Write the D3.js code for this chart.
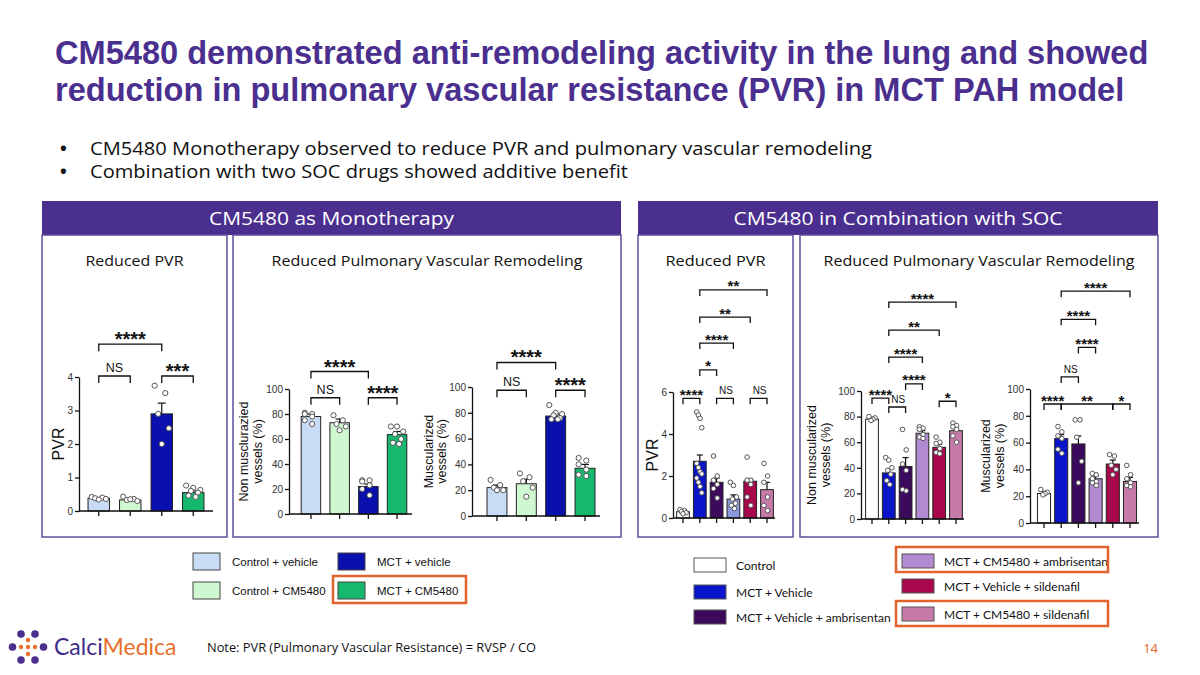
<!DOCTYPE html>
<meta charset="utf-8">
<head>
<style>
  body { margin: 0; background: #fff; }
  svg text { font-family: "Liberation Sans", Arial, sans-serif; }
  .lato { font-family: Lato, sans-serif !important; }
  .open { font-family: "Open Sans", sans-serif !important; }
  .axis text { font-size: 10px; fill: #333; }
  .axis path, .axis line { stroke: #111; stroke-width: 1.3px; }
</style>
</head>
<body>
<script src="https://d3js.org/d3.v7.min.js"></script>
<script>

// ---------- data ----------
var groupsMono = ["Control + vehicle", "Control + CM5480", "MCT + vehicle", "MCT + CM5480"];
var colorsMono = ["#c8dcf5", "#cff8d0", "#0a10ad", "#15b86c"];

var groupsSoc = ["Control", "MCT + Vehicle", "MCT + Vehicle + ambrisentan",
                 "MCT + CM5480 + ambrisentan", "MCT + Vehicle + sildenafil", "MCT + CM5480 + sildenafil"];
var colorsSoc = ["#ffffff", "#0a14c8", "#3b0a5c", "#b28ad0", "#a8084b", "#c67aa7"];

// monotherapy: PVR
var pvrMonoMean = [0.38, 0.33, 2.9, 0.55];
var pvrMonoErr  = [0.02, 0.03, 0.32, 0.05];
var pvrMonoPts  = [[0.42, 0.40, 0.38, 0.36, 0.34],
                   [0.43, 0.36, 0.33, 0.30, 0.35],
                   [3.74, 3.52, 2.9, 2.47, 2.0],
                   [0.76, 0.69, 0.63, 0.60, 0.55, 0.46, 0.42]];
var pvrMonoSig  = [[0, 1, 4.03, "NS"], [2, 3, 4.03, "***"], [0, 2, 4.98, "****"]];

// monotherapy: non muscularized vessels (%)
var nonMuscMonoMean = [78, 73, 22, 63.5];
var nonMuscMonoErr  = [2, 3, 2, 2.5];
var nonMuscMonoPts  = [[81, 80, 80, 78, 75, 72],
                       [79, 75, 72, 70, 67],
                       [27, 27, 26, 23, 20, 15],
                       [70, 70, 66, 64, 60, 57, 56]];
var nonMuscMonoSig  = [[0, 1, 93, "NS"], [2, 3, 93, "****"], [0, 2, 114, "****"]];

// monotherapy: muscularized vessels (%)
var muscMonoMean = [22, 25, 77.5, 37];
var muscMonoErr  = [2, 3.5, 1.5, 3];
var muscMonoPts  = [[28, 24, 22, 20, 20],
                    [33, 30, 27, 22, 15],
                    [86, 80, 79, 78, 76, 75, 75],
                    [45, 43, 40, 36, 32, 31]];
var muscMonoSig  = [[0, 1, 97.5, "NS"], [2, 3, 97.5, "****"], [0, 2, 119, "****"]];

// combination: PVR
var pvrSocMean = [0.3, 2.7, 1.7, 0.9, 1.75, 1.35];
var pvrSocErr  = [0.04, 0.3, 0.2, 0.2, 0.1, 0.35];
var pvrSocPts  = [[0.4, 0.35, 0.3, 0.25, 0.2],
                  [5.05, 4.9, 4.75, 4.3, 2.6, 2.4, 2.2, 2.1, 1.9, 1.7, 1.5, 1.2],
                  [2.95, 2.0, 1.8, 1.6, 1.4, 0.95],
                  [1.7, 1.55, 1.0, 0.9, 0.7, 0.6, 0.45],
                  [2.9, 1.8, 1.8, 1.6, 1.0, 0.6],
                  [2.6, 2.0, 1.7, 1.0, 0.6, 0.35]];
var pvrSocSig  = [[0, 1, 5.7, "****"], [2, 3, 5.7, "NS"], [4, 5, 5.7, "NS"],
                  [1, 2, 7.05, "*"], [1, 3, 8.33, "****"], [1, 4, 9.57, "**"], [1, 5, 10.86, "**"]];

// combination: non muscularized vessels (%)
var nonMuscSocMean = [78, 36, 41, 67, 56, 69];
var nonMuscSocErr  = [1.5, 3, 7, 2, 2.5, 3];
var nonMuscSocPts  = [[80, 79, 78, 77],
                      [48, 46, 40, 38, 35, 30, 27],
                      [70, 54, 43, 38, 23, 22],
                      [72, 71, 70, 66, 64, 63],
                      [64, 60, 59, 55, 52, 51],
                      [75, 73, 72, 70, 65, 60]];
var nonMuscSocSig  = [[0, 1, 94.5, "****"], [1, 2, 87.5, "NS"], [4, 5, 92, "*"],
                      [2, 3, 105.5, "****"], [1, 3, 126.5, "****"], [1, 4, 147.6, "**"], [1, 5, 169.5, "****"]];

// combination: muscularized vessels (%)
var muscSocMean = [22, 63, 59, 33, 44, 31];
var muscSocErr  = [1.5, 3, 6, 2, 3, 3];
var muscSocPts  = [[25, 23, 22, 21],
                   [72, 68, 65, 63, 55, 52],
                   [77, 77, 64, 46, 30],
                   [37, 36, 33, 31, 30, 28],
                   [51, 50, 43, 40, 36],
                   [43, 36, 33, 30, 28, 27]];
var muscSocSig  = [[0, 1, 88.8, "****"], [1, 4, 88.8, "**"], [4, 5, 88.8, "*"],
                   [1, 2, 109, "NS"], [2, 3, 131, "****"], [1, 3, 152, "****"], [1, 5, 173, "****"]];

var pctTicks = [0, 20, 40, 60, 80, 100];

// ---------- page ----------
var purple = "#4a2f8f";
var orange = "#e2632b";

var svg = d3.select("body").append("svg")
    .attr("width", 1200)
    .attr("height", 675);

// squeeze / stretch a text to the width it has in the slide
function fit(sel, w) {
  sel.attr("textLength", w).attr("lengthAdjust", "spacingAndGlyphs");
  return sel;
}

// title
var title = svg.append("g").attr("fill", purple)
    .attr("font-size", 32.6).attr("font-weight", "bold");
title.append("text").attr("x", 55).attr("y", 64)
    .text("CM5480 demonstrated anti-remodeling activity in the lung and showed");
title.append("text").attr("x", 55).attr("y", 101)
    .text("reduction in pulmonary vascular resistance (PVR) in MCT PAH model");

// bullets
var bullets = ["CM5480 Monotherapy observed to reduce PVR and pulmonary vascular remodeling",
               "Combination with two SOC drugs showed additive benefit"];
var bulletW = [782, 538];
bullets.forEach(function(b, i) {
  svg.append("text").attr("class", "open").attr("x", 60).attr("y", 155 + i * 23)
      .attr("font-size", 18).attr("font-weight", "bold").attr("fill", "#111").text("\u2022");
  fit(svg.append("text").attr("class", "open").attr("x", 90).attr("y", 155 + i * 23)
      .attr("font-size", 18.5).attr("fill", "#111").text(b), bulletW[i]);
});

// panels
function panel(x0, x1, xs, label, labelW, subs, subW) {
  svg.append("rect").attr("x", x0).attr("y", 201).attr("width", x1 - x0).attr("height", 34)
      .attr("fill", purple);
  fit(svg.append("text").attr("class", "open").attr("x", (x0 + x1) / 2 - labelW / 2).attr("y", 225)
      .attr("fill", "#fff").attr("font-size", 19).text(label), labelW);
  var edges = [[x0, xs[0]], [xs[1], x1]];
  edges.forEach(function(e, i) {
    svg.append("rect").attr("x", e[0]).attr("y", 235).attr("width", e[1] - e[0]).attr("height", 302)
        .attr("fill", "none").attr("stroke", "#5d4f9d").attr("stroke-width", 1.5);
    fit(svg.append("text").attr("class", "open").attr("x", (e[0] + e[1]) / 2 - subW[i] / 2).attr("y", 266)
        .attr("fill", "#111").attr("font-size", 15).text(subs[i]), subW[i]);
  });
}
panel(42, 621, [227, 233], "CM5480 as Monotherapy", 245,
      ["Reduced PVR", "Reduced Pulmonary Vascular Remodeling"], [98, 311]);
panel(638, 1158, [793, 800], "CM5480 in Combination with SOC", 329,
      ["Reduced PVR", "Reduced Pulmonary Vascular Remodeling"], [100, 311]);

// ---------- bar charts ----------
function drawChart(c) {
  var n = c.mean.length;
  var x = d3.scaleBand().domain(d3.range(n)).range(c.xRange).paddingInner(c.pad).paddingOuter(c.pad / 2);
  var y = d3.scaleLinear().domain([0, c.yMax]).range(c.yRange);
  var g = svg.append("g");

  // bars
  g.selectAll("rect.bar").data(c.mean).enter().append("rect")
      .attr("x", function(d, i) { return x(i); })
      .attr("y", function(d) { return y(d); })
      .attr("width", x.bandwidth())
      .attr("height", function(d) { return y(0) - y(d); })
      .attr("fill", function(d, i) { return c.colors[i]; })
      .attr("stroke", "#222").attr("stroke-width", 1);

  // error bars
  c.mean.forEach(function(m, i) {
    var cx = x(i) + x.bandwidth() / 2;
    var top = y(m + c.err[i]);
    g.append("line").attr("x1", cx).attr("x2", cx).attr("y1", y(m)).attr("y2", top)
        .attr("stroke", "#111").attr("stroke-width", 1.2);
    g.append("line").attr("x1", cx - c.cap).attr("x2", cx + c.cap).attr("y1", top).attr("y2", top)
        .attr("stroke", "#111").attr("stroke-width", 1.2);
  });

  // individual points, spread across the bar
  c.pts.forEach(function(p, i) {
    var w = x.bandwidth() - 2 * c.r - 2;
    var step = p.length > 1 ? w / (p.length - 1) : 0;
    g.selectAll(null).data(p).enter().append("circle")
        .attr("cx", function(d, k) { return x(i) + c.r + 1 + (p.length > 1 ? ((k * 3) % p.length) * step : w / 2); })
        .attr("cy", function(d) { return y(d); })
        .attr("r", c.r)
        .attr("fill", "#fff").attr("stroke", "#555").attr("stroke-width", 1);
  });

  // axes
  g.append("g").attr("class", "axis")
      .attr("transform", "translate(" + c.axisX + ",0)")
      .call(d3.axisLeft(y).tickValues(c.ticks).tickFormat(d3.format("d"))
          .tickSize(4).tickSizeOuter(0).tickPadding(2));
  g.append("line").attr("x1", c.axisX).attr("x2", c.axisEnd).attr("y1", y(0)).attr("y2", y(0))
      .attr("stroke", "#111").attr("stroke-width", 1.3);
  d3.range(n).forEach(function(i) {
    var cx = x(i) + x.bandwidth() / 2;
    g.append("line").attr("x1", cx).attr("x2", cx).attr("y1", y(0)).attr("y2", y(0) + 5)
        .attr("stroke", "#111").attr("stroke-width", 1.3);
  });

  // y label
  c.yLabel.forEach(function(t, i) {
    var lx = c.axisX + c.labelDx[i];
    var ly = (c.yRange[0] + c.yRange[1]) / 2;
    g.append("text").attr("transform", "translate(" + lx + "," + ly + ") rotate(-90)")
        .attr("text-anchor", "middle").attr("dy", "0.35em")
        .attr("font-size", c.labelSize).attr("fill", "#111").text(t);
  });

  // significance brackets
  c.sig.forEach(function(s) {
    var x1 = x(s[0]) + x.bandwidth() / 2, x2 = x(s[1]) + x.bandwidth() / 2, ly = y(s[2]);
    g.append("path")
        .attr("d", "M" + x1 + "," + (ly + c.leg) + "V" + ly + "H" + x2 + "V" + (ly + c.leg))
        .attr("fill", "none").attr("stroke", "#111").attr("stroke-width", 1.3);
    var isNS = s[3] === "NS";
    g.append("text").attr("x", (x1 + x2) / 2 + (isNS ? c.nsDx : 0))
        .attr("y", isNS ? ly - 4 : ly + c.starDy)
        .attr("text-anchor", "middle")
        .attr("font-size", isNS ? c.nsSize : c.starSize)
        .attr("font-weight", isNS ? "normal" : "bold")
        .attr("fill", "#111").text(s[3]);
  });
}

var monoStyle = {pad: 0.32, cap: 4, r: 2.6, leg: 7, starSize: 20, starDy: 2, nsSize: 12.5, nsDx: 0};
var socStyle  = {pad: 0.24, cap: 3, r: 2.3, leg: 6, starSize: 15, starDy: 1.5, nsSize: 10, nsDx: 1};

drawChart(Object.assign({}, monoStyle, {
  mean: pvrMonoMean, err: pvrMonoErr, pts: pvrMonoPts, sig: pvrMonoSig, colors: colorsMono,
  xRange: [83, 209], axisX: 79, axisEnd: 213, yRange: [511, 377], yMax: 4, ticks: [0, 1, 2, 3, 4],
  yLabel: ["PVR"], labelDx: [-21], labelSize: 16
}));
drawChart(Object.assign({}, monoStyle, {
  mean: nonMuscMonoMean, err: nonMuscMonoErr, pts: nonMuscMonoPts, sig: nonMuscMonoSig, colors: colorsMono,
  xRange: [296.6, 411.4], axisX: 289, axisEnd: 412, yRange: [514, 389], yMax: 100, ticks: pctTicks,
  yLabel: ["Non musclurazied", "vessels (%)"], labelDx: [-45, -31], labelSize: 12.5
}));
drawChart(Object.assign({}, monoStyle, {
  mean: muscMonoMean, err: muscMonoErr, pts: muscMonoPts, sig: muscMonoSig, colors: colorsMono,
  xRange: [482.3, 599.7], axisX: 472, axisEnd: 600, yRange: [516, 387], yMax: 100, ticks: pctTicks,
  yLabel: ["Muscularized", "vessels (%)"], labelDx: [-43, -30], labelSize: 12.5
}));
drawChart(Object.assign({}, socStyle, {
  mean: pvrSocMean, err: pvrSocErr, pts: pvrSocPts, sig: pvrSocSig,
  colors: ["#ffffff", "#0a14c8", "#3b0a5c", "#8c98dc", "#a8084b", "#c67aa7"],
  xRange: [674.6, 775.4], axisX: 673, axisEnd: 775, yRange: [518, 392], yMax: 6, ticks: [0, 2, 4, 6],
  yLabel: ["PVR"], labelDx: [-21], labelSize: 16
}));
drawChart(Object.assign({}, socStyle, {
  mean: nonMuscSocMean, err: nonMuscSocErr, pts: nonMuscSocPts, sig: nonMuscSocSig, colors: colorsSoc,
  xRange: [863.6, 964.4], axisX: 861, axisEnd: 964, yRange: [519, 391], yMax: 100, ticks: pctTicks,
  yLabel: ["Non muscularized", "vessels (%)"], labelDx: [-49, -35], labelSize: 12.5
}));
drawChart(Object.assign({}, socStyle, {
  mean: muscSocMean, err: muscSocErr, pts: muscSocPts, sig: muscSocSig, colors: colorsSoc,
  xRange: [1035.4, 1138.6], axisX: 1030, axisEnd: 1139, yRange: [523, 389], yMax: 100, ticks: pctTicks,
  yLabel: ["Muscularized", "vessels (%)"], labelDx: [-44, -30], labelSize: 12.5
}));

// ---------- legends ----------
var monoLegendPos = [[193, 553], [193, 582], [338, 553], [338, 582]];
groupsMono.forEach(function(name, i) {
  var p = monoLegendPos[i];
  svg.append("rect").attr("x", p[0]).attr("y", p[1]).attr("width", 27).attr("height", 17)
      .attr("fill", colorsMono[i]).attr("stroke", "#444").attr("stroke-width", 1);
  svg.append("text").attr("x", p[0] + 39).attr("y", p[1] + 13).attr("font-size", 11.5)
      .attr("fill", "#111").text(name);
});
svg.append("rect").attr("x", 333).attr("y", 576).attr("width", 133).attr("height", 27)
    .attr("fill", "none").attr("stroke", orange).attr("stroke-width", 2.5);

var socLegendPos = [[694, 558], [694, 585], [694, 610], [902, 554], [902, 579], [902, 607]];
groupsSoc.forEach(function(name, i) {
  var p = socLegendPos[i];
  svg.append("rect").attr("x", p[0]).attr("y", p[1]).attr("width", 32).attr("height", 14)
      .attr("fill", colorsSoc[i]).attr("stroke", "#555").attr("stroke-width", 1);
  svg.append("text").attr("class", "lato").attr("x", p[0] + 42).attr("y", p[1] + 12)
      .attr("font-size", 12).attr("fill", "#111").text(name);
});
[[896, 547], [896, 601]].forEach(function(p) {
  svg.append("rect").attr("x", p[0]).attr("y", p[1]).attr("width", 212).attr("height", 25)
      .attr("fill", "none").attr("stroke", orange).attr("stroke-width", 2.5);
});

// ---------- footer ----------
var logoBig = [[21, 634], [35, 634], [12.5, 647], [43.5, 647], [21, 660], [35, 660]];
var logoSmall = [[28, 640], [28, 654], [21, 647], [35, 647], [28, 647]];
svg.selectAll("circle.lb").data(logoBig).enter().append("circle")
    .attr("cx", function(d) { return d[0]; }).attr("cy", function(d) { return d[1]; })
    .attr("r", 3.8).attr("fill", "#4a2f8f");
svg.selectAll("circle.ls").data(logoSmall).enter().append("circle")
    .attr("cx", function(d) { return d[0]; }).attr("cy", function(d) { return d[1]; })
    .attr("r", 2.2).attr("fill", "#e8702a");
var logo = svg.append("text").attr("class", "lato").attr("x", 54).attr("y", 655).attr("font-size", 23);
logo.append("tspan").attr("fill", "#3d2c8a").text("Calci");
logo.append("tspan").attr("fill", "#e8702a").text("Medica");

fit(svg.append("text").attr("class", "open").attr("x", 207).attr("y", 652).attr("font-size", 12)
    .attr("fill", "#111").text("Note: PVR (Pulmonary Vascular Resistance) = RVSP / CO"), 329);
svg.append("text").attr("class", "open").attr("x", 1158).attr("y", 653).attr("text-anchor", "end")
    .attr("font-size", 13).attr("fill", orange).text("14");

</script>
</body>
